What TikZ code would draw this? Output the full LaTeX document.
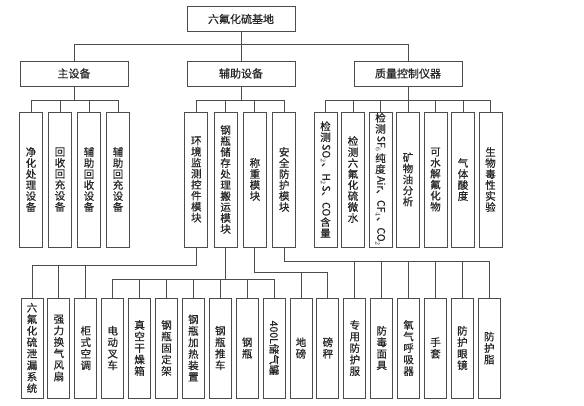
\documentclass[tikz,border=0pt]{standalone}
\usepackage{fontspec}
\setmainfont{Noto Sans CJK SC}[FakeBold=0.6]
\usepackage{graphicx}
\usepackage{tikz}

\tikzset{
  headbox/.style={draw=black!70, line width=0.9pt, minimum width=108pt, minimum height=25pt, inner sep=0pt, text=black!85, font=\fontsize{11}{12}\selectfont},
  colbox/.style={draw=black!70, line width=0.9pt, minimum width=23pt, minimum height=135pt, inner sep=0pt, align=center, text=black!85, font=\fontsize{10.5}{11}\selectfont},
  leafbox/.style={colbox, minimum width=22pt, minimum height=100pt, font=\fontsize{10.5}{11.5}\selectfont},
  wire/.style={draw=black!70, line width=0.9pt}
}
% sideways latin text inside a vertical label
\newcommand{\sidetext}[1]{\raisebox{8pt}{\rotatebox{-90}{#1}}}

\begin{document}
\begin{tikzpicture}[x=1pt, y=-1pt]
    \useasboundingbox (0,0) rectangle (584,406);

        % 1. Top node and the three groups
        \node[headbox] (root) at (241,19) {六氟化硫基地};
        \node[headbox] (main) at (74,73.5) {主设备};
        \node[headbox] (aux) at (241,73.5) {辅助设备};
        \node[headbox] (qc) at (408,73.5) {质量控制仪器};

        \coordinate (topbus) at (0,44);
        \draw[wire] (root.south) -- (root.south |- topbus);
        \draw[wire] (main.north) |- (qc.north |- topbus) -- (qc.north);
        \draw[wire] (aux.north) -- (aux.north |- topbus);

        % 2. Second row of columns
        \foreach \lbl [count=\i] in {{净\\化\\处\\理\\设\\备}, {回\\收\\回\\充\\设\\备},
                                     {辅\\助\\回\\收\\设\\备}, {辅\\助\\回\\充\\设\\备}}
          \node[colbox] (main\i) at (2+29*\i,179.5) {\lbl};

        \foreach \lbl [count=\i] in {{环\\境\\监\\测\\控\\件\\模\\块}, {钢\\瓶\\储\\存\\处\\理\\搬\\运\\模\\块},
                                     {称\\重\\模\\块}, {安\\全\\防\\护\\模\\块}}
          \node[colbox] (aux\i) at (167+29.3*\i,179.5) {\lbl};

        \foreach \lbl [count=\i] in {{检\\测\\\sidetext{SO$_2$、H$_2$S、CO}\\含\\量},
                                     {检\\测\\六\\氟\\化\\硫\\微\\水},
                                     {检\\测\\\sidetext{SF$_6$}\\纯\\度\\\sidetext{Air、CF$_4$、CO$_2$}},
                                     {矿\\物\\油\\分\\析}, {可\\水\\解\\氟\\化\\物},
                                     {气\\体\\酸\\度}, {生\\物\\毒\\性\\实\\验}}
          \node[colbox] (qc\i) at (298+27.5*\i,179.5) {\lbl};

        % buses under the three groups
        \coordinate (midbus) at (0,100);
        \draw[wire] (main.south) -- (main.south |- midbus);
        \draw[wire] (main1.north) |- (main4.north |- midbus) -- (main4.north);
        \foreach \i in {2,3}
          \draw[wire] (main\i.north) -- (main\i.north |- midbus);

        \draw[wire] (aux.south) -- (aux.south |- midbus);
        \draw[wire] (aux1.north) |- (aux4.north |- midbus) -- (aux4.north);
        \foreach \i in {2,3}
          \draw[wire] (aux\i.north) -- (aux\i.north |- midbus);

        \draw[wire] (qc.south) -- (qc.south |- midbus);
        \draw[wire] (qc1.north) |- (qc7.north |- midbus) -- (qc7.north);
        \foreach \i in {2,...,6}
          \draw[wire] (qc\i.north) -- (qc\i.north |- midbus);

        % 3. Bottom row
        \foreach \lbl [count=\i] in {{六\\氟\\化\\硫\\泄\\漏\\系\\统}, {强\\力\\换\\气\\风\\扇},
                                     {柜\\式\\空\\调}, {电\\动\\叉\\车}, {真\\空\\干\\燥\\箱},
                                     {钢\\瓶\\固\\定\\架}, {钢\\瓶\\加\\热\\装\\置}, {钢\\瓶\\推\\车},
                                     {钢\\瓶}, {\rotatebox{-90}{400L储气罐}}, {地\\磅}, {磅\\秤},
                                     {专\\用\\防\\护\\服}, {防\\毒\\面\\具}, {氧\\气\\呼\\吸\\器},
                                     {手\\套}, {防\\护\\眼\\镜}, {防\\护\\脂}}
          \node[leafbox] (leaf\i) at (5.1+26.9*\i,348) {\lbl};

        % environment module -> leaves 1-3
        \coordinate (envbus) at (0,265);
        \draw[wire] (aux1.south) |- (leaf1.north |- envbus) -- (leaf1.north);
        \foreach \i in {2,3}
          \draw[wire] (leaf\i.north) -- (leaf\i.north |- envbus);

        % cylinder module -> leaves 4-10
        \coordinate (cylbus) at (0,279);
        \draw[wire] (aux2.south) -- (aux2.south |- cylbus);
        \draw[wire] (leaf4.north) |- (leaf10.north |- cylbus) -- (leaf10.north);
        \foreach \i in {5,...,9}
          \draw[wire] (leaf\i.north) -- (leaf\i.north |- cylbus);

        % weighing module -> leaves 11-12
        \coordinate (weighbus) at (0,272);
        \draw[wire] (aux3.south) |- (leaf12.north |- weighbus) -- (leaf12.north);
        \draw[wire] (leaf11.north) -- (leaf11.north |- weighbus);

        % safety module -> leaves 13-18
        \coordinate (safebus) at (0,261);
        \draw[wire] (aux4.south) |- (leaf18.north |- safebus) -- (leaf18.north);
        \foreach \i in {13,...,17}
          \draw[wire] (leaf\i.north) -- (leaf\i.north |- safebus);

\end{tikzpicture}
\end{document}
